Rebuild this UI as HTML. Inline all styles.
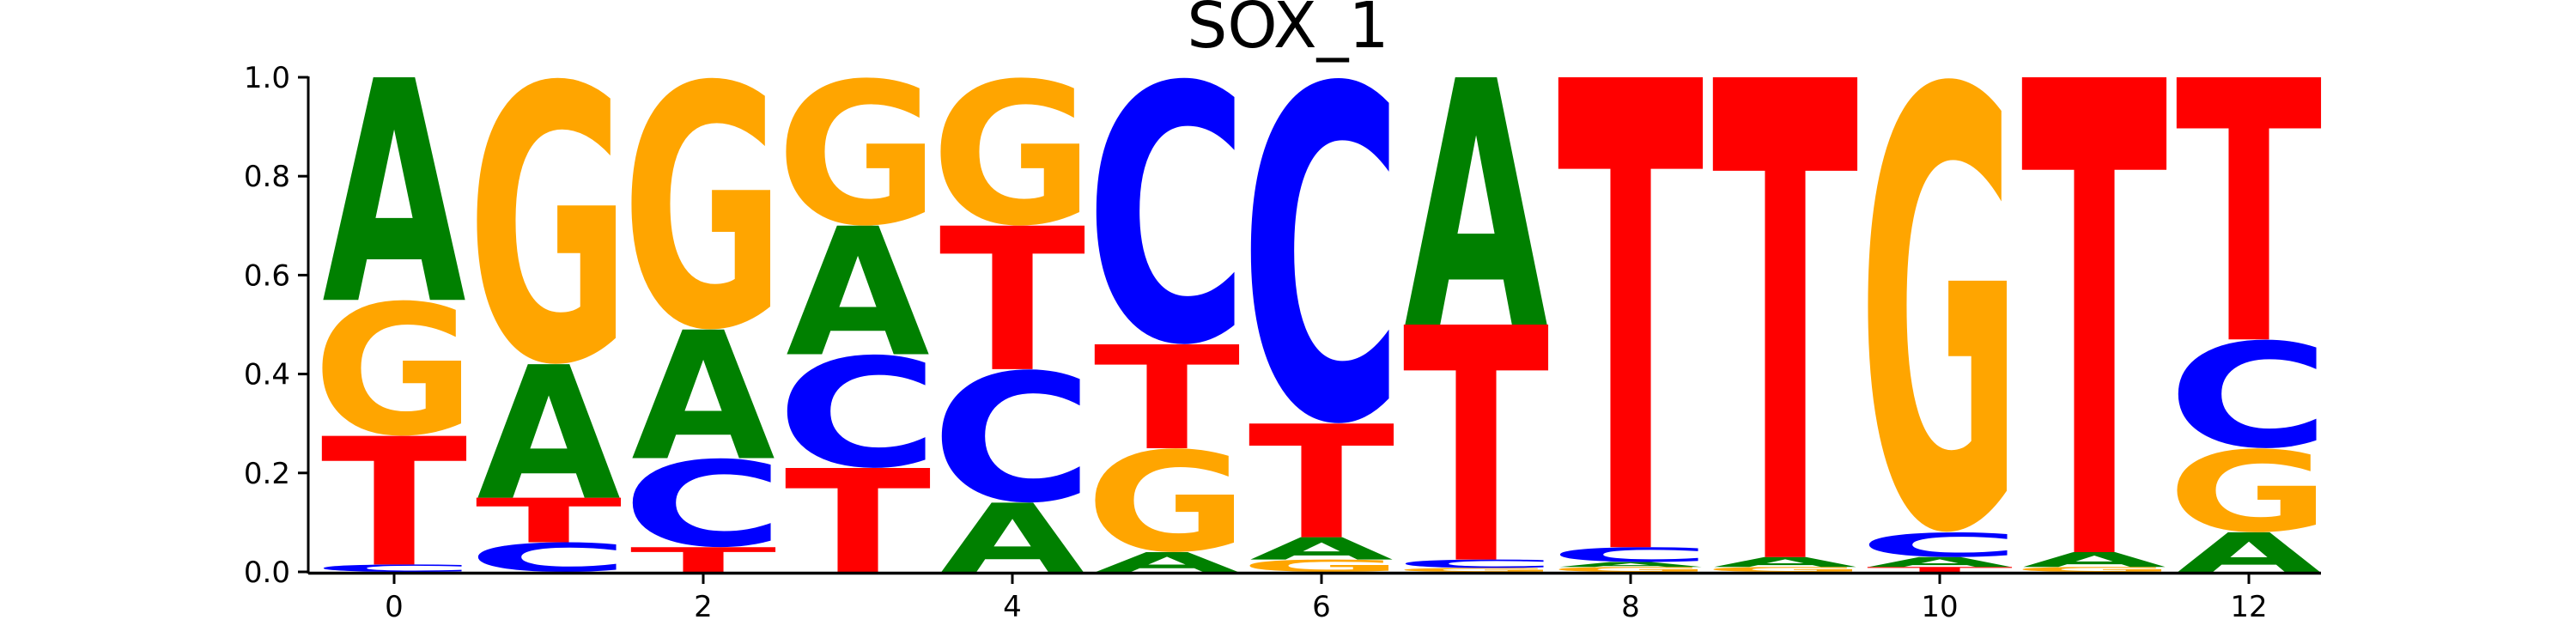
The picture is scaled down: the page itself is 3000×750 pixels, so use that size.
<!DOCTYPE html>
<html><head><meta charset="utf-8"><style>
html,body{margin:0;padding:0;background:#fff;width:3000px;height:750px;overflow:hidden}
svg{display:block;position:absolute;left:0;top:0;overflow:hidden}
</style></head><body>
<svg id="chart" width="3000" height="750" viewBox="0 0 3000 750" xmlns="http://www.w3.org/2000/svg">
<text x="1500" y="55" text-anchor="middle" font-family="DejaVu Sans, Liberation Sans, sans-serif" font-size="74" fill="#000">SOX_1</text>
<g id="letters"></g>
<g id="axes"></g>
</svg>
<script>
// Positions (categories)
const positions = [0,1,2,3,4,5,6,7,8,9,10,11,12];
// Stacks bottom->top: letters and heights
const stackLetters = [
  ['C','T','G','A'],
  ['C','T','A','G'],
  ['T','C','A','G'],
  ['T','C','A','G'],
  ['A','C','T','G'],
  ['A','G','T','C'],
  ['G','A','T','C'],
  ['G','C','T','A'],
  ['G','A','C','T'],
  ['G','A','T'],
  ['T','A','C','G'],
  ['G','A','T'],
  ['A','G','C','T']
];
const stackHeights = [
  [0.015,0.26,0.275,0.45],
  [0.06,0.09,0.27,0.58],
  [0.05,0.18,0.26,0.51],
  [0.21,0.23,0.26,0.30],
  [0.14,0.27,0.29,0.30],
  [0.04,0.21,0.21,0.54],
  [0.025,0.045,0.23,0.70],
  [0.008,0.017,0.475,0.50],
  [0.01,0.01,0.03,0.95],
  [0.01,0.02,0.97],
  [0.01,0.02,0.05,0.92],
  [0.01,0.03,0.96],
  [0.08,0.17,0.22,0.53]
];
const yTicks = [0,0.2,0.4,0.6,0.8,1.0];
const yTickLabels = ['0.0','0.2','0.4','0.6','0.8','1.0'];
const xTicks = [0,2,4,6,8,10,12];
const xTickLabels = ['0','2','4','6','8','10','12'];

const colors = {A:'#008000',C:'#0000ff',G:'#ffa500',T:'#ff0000'};
const X0 = 459, XU = 180, Y0 = 666, YU = 576;
const xs = v => X0 + v*XU;
const ys = v => Y0 - v*YU;
const NS = 'http://www.w3.org/2000/svg';
const svg = document.getElementById('chart');
const lg = document.getElementById('letters');
const ax = document.getElementById('axes');
const FS = 100;
// glyph vertical extents (em*100): bottom overshoot and top
const gBot = {A:0,C:-1.5,G:-1.5,T:0};
const gTop = {A:72.9,C:74.4,G:74.4,T:72.9};

const adv = {};
['A','C','G','T'].forEach(L=>{
  const t = document.createElementNS(NS,'text');
  t.setAttribute('font-family','DejaVu Sans, sans-serif');
  t.setAttribute('font-weight','bold');
  t.setAttribute('font-size',FS);
  t.textContent = L;
  svg.appendChild(t);
  let w = 0;
  try { w = t.getComputedTextLength(); } catch(e) {}
  adv[L] = w>0 ? w : ({A:77,C:73,G:82,T:68})[L];
  svg.removeChild(t);
});
const bear = {A:1.0,C:0.88,G:0.88,T:0.98};

positions.forEach((p,i)=>{
  let base = 0;
  const colW = 0.93*XU;
  stackLetters[i].forEach((L,j)=>{
    const h = stackHeights[i][j];
    const t = document.createElementNS(NS,'text');
    
    
    t.setAttribute('font-family','DejaVu Sans, sans-serif');
    t.setAttribute('font-weight','bold');
    t.setAttribute('font-size',FS);
    t.setAttribute('text-anchor','middle');
    t.setAttribute('fill',colors[L]);
    const sx = colW/(adv[L]*bear[L]);
    const sy = (h*YU)/(gTop[L]-gBot[L]);
    const by = ys(base) + gBot[L]*sy;
    t.setAttribute('transform','translate('+xs(p)+','+by+') scale('+sx+','+sy+')');
    t.textContent = L;
    lg.appendChild(t);
    base += h;
  });
});

function line(x1,y1,x2,y2,w,name){
  const l = document.createElementNS(NS,'line');
  l.setAttribute('x1',x1);l.setAttribute('y1',y1);l.setAttribute('x2',x2);l.setAttribute('y2',y2);
  l.setAttribute('stroke','#000');l.setAttribute('stroke-width',w);
  
  
  ax.appendChild(l);
}
line(359,ys(1)-1,359,Y0+2,3,'y-axis-line');
line(359,Y0+1.5,2703,Y0+1.5,3.5,'x-axis-line');
yTicks.forEach((v,i)=>{
  line(347,ys(v),359,ys(v),3,'y-tick');
  const t = document.createElementNS(NS,'text');
  t.setAttribute('x',338);t.setAttribute('y',ys(v)+12);
  t.setAttribute('text-anchor','end');
  t.setAttribute('font-family','DejaVu Sans, sans-serif');t.setAttribute('font-size',34);
  
  
  t.textContent = yTickLabels[i];
  ax.appendChild(t);
});
xTicks.forEach((v,i)=>{
  line(xs(v),Y0+2,xs(v),Y0+14,3,'x-tick');
  const t = document.createElementNS(NS,'text');
  t.setAttribute('x',xs(v));t.setAttribute('y',Y0+52);
  t.setAttribute('text-anchor','middle');
  t.setAttribute('font-family','DejaVu Sans, sans-serif');t.setAttribute('font-size',34);
  
  
  t.textContent = xTickLabels[i];
  ax.appendChild(t);
});
</script>
</body></html>
